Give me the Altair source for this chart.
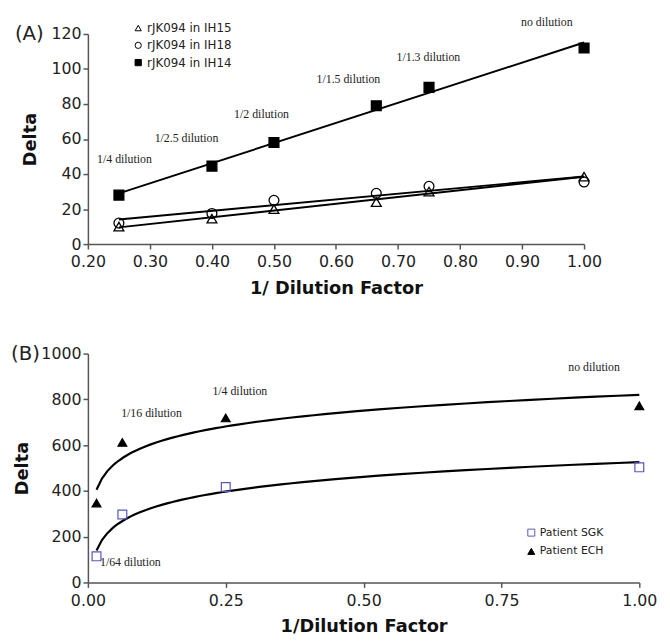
import altair as alt
import pandas as pd

# ---------------- Panel A data ----------------
x_a = [0.25, 0.40, 0.50, 0.665, 0.75, 1.00]
ih15 = [10.0, 14.5, 20.0, 24.0, 30.0, 38.5]
ih18 = [12.0, 17.5, 25.0, 29.0, 33.0, 35.5]
ih14 = [28.0, 44.5, 58.0, 79.0, 89.5, 112.0]
series_a = ["rJK094 in IH15", "rJK094 in IH18", "rJK094 in IH14"]
x_ticks_a = [0.2, 0.3, 0.4, 0.5, 0.6, 0.7, 0.8, 0.9, 1.0]
y_ticks_a = [0, 20, 40, 60, 80, 100, 120]

annot_a_text = ["1/4 dilution", "1/2.5 dilution", "1/2 dilution",
                "1/1.5 dilution", "1/1.3 dilution", "no dilution"]
annot_a_x = [0.259, 0.359, 0.480, 0.620, 0.749, 0.940]
annot_a_y = [48.5, 60.8, 74.4, 94.1, 107.0, 126.8]

# ---------------- Panel B data ----------------
x_b = [1 / 64, 1 / 16, 1 / 4, 1.0]
sgk = [114, 297, 417, 503]
ech = [347, 612, 719, 772]
series_b = ["Patient SGK", "Patient ECH"]
x_ticks_b = [0.0, 0.25, 0.5, 0.75, 1.0]
y_ticks_b = [0, 200, 400, 600, 800, 1000]

annot_b_text = ["1/64 dilution", "1/16 dilution", "1/4 dilution", "no dilution"]
annot_b_x = [0.077, 0.1154, 0.2755, 0.918]
annot_b_y = [90, 741, 838, 940]

# ---------------- tables ----------------
df_a = pd.DataFrame({
    "x": x_a * 3,
    "y": ih15 + ih18 + ih14,
    "series": [s for s in series_a for _ in x_a],
})
df_ann_a = pd.DataFrame({"x": annot_a_x, "y": annot_a_y, "label": annot_a_text})

df_b = pd.DataFrame({
    "x": x_b * 2,
    "y": sgk + ech,
    "series": [s for s in series_b for _ in x_b],
})
df_ann_b = pd.DataFrame({"x": annot_b_x, "y": annot_b_y, "label": annot_b_text})

AX = "#555555"

# ---------------- Panel A ----------------
xa = alt.X("x:Q", scale=alt.Scale(domain=[0.2, 1.0], nice=False, zero=False),
           axis=alt.Axis(values=x_ticks_a, format=".2f", title="1/ Dilution Factor",
                         labelPadding=5, titlePadding=10, labelOverlap=False, labelFlush=False))
ya = alt.Y("y:Q", scale=alt.Scale(domain=[0, 120], nice=False),
           axis=alt.Axis(values=y_ticks_a, format="d", title="Delta", titlePadding=12, labelPadding=2,
                         labelOverlap=False, labelFlush=False, tickCount=7))

legend_a = alt.Legend(title=None, orient="none", legendX=45, legendY=-12,
                      labelFont="DejaVu Sans", labelFontSize=12, labelColor="#222",
                      symbolSize=40, symbolStrokeWidth=1,
                      rowPadding=5.5, labelOffset=3)

base_a = alt.Chart(df_a)
lines_a = base_a.transform_regression("x", "y", groupby=["series"]).mark_line(
    color="black", strokeWidth=2).encode(x=xa, y=ya, detail="series:N")
pts_a = base_a.mark_point(filled=True, strokeWidth=1.3, size=100, opacity=1).encode(
    x=xa, y=ya,
    shape=alt.Shape("series:N", scale=alt.Scale(domain=series_a, range=["triangle-up", "circle", "square"]),
                    legend=legend_a),
    fill=alt.Fill("series:N", scale=alt.Scale(domain=series_a, range=["transparent", "transparent", "black"]),
                  legend=legend_a),
    stroke=alt.Stroke("series:N", scale=alt.Scale(domain=series_a, range=["black", "black", "black"]),
                      legend=legend_a),
)
ann_a = alt.Chart(df_ann_a).mark_text(font="Liberation Serif", fontSize=12, color="#222").encode(
    x="x:Q", y="y:Q", text="label:N")
lab_a = alt.Chart(pd.DataFrame({"t": ["(A)"]})).mark_text(
    font="DejaVu Sans", fontSize=20, align="left", baseline="middle", color="#222").encode(
    x=alt.value(-74), y=alt.value(0), text="t:N")

chart_a = alt.layer(lines_a, pts_a, ann_a, lab_a).properties(width=503, height=213)

# ---------------- Panel B ----------------
xb = alt.X("x:Q", scale=alt.Scale(domain=[0, 1.0], nice=False),
           axis=alt.Axis(values=x_ticks_b, format=".2f", title="1/Dilution Factor",
                         labelPadding=5, titlePadding=10, labelOverlap=False, labelFlush=False))
yb = alt.Y("y:Q", scale=alt.Scale(domain=[0, 1000], nice=False),
           axis=alt.Axis(values=y_ticks_b, format="d", title="Delta", titlePadding=9, labelPadding=2,
                         labelOverlap=False, labelFlush=False))

legend_b = alt.Legend(title=None, orient="none", legendX=444, legendY=176,
                      labelFont="DejaVu Sans", labelFontSize=11, labelColor="#222",
                      symbolSize=50, symbolStrokeWidth=1,
                      rowPadding=6, labelOffset=3)

base_b = alt.Chart(df_b)
lines_b = base_b.transform_regression("x", "y", groupby=["series"], method="log").mark_line(
    color="black", strokeWidth=2.2).encode(x=xb, y=yb, detail="series:N")
pts_b = base_b.mark_point(filled=True, strokeWidth=1.2, size=80, opacity=1).encode(
    x=xb, y=yb,
    shape=alt.Shape("series:N", scale=alt.Scale(domain=series_b, range=["square", "triangle-up"]),
                    legend=legend_b),
    fill=alt.Fill("series:N", scale=alt.Scale(domain=series_b, range=["transparent", "black"]),
                  legend=legend_b),
    stroke=alt.Stroke("series:N", scale=alt.Scale(domain=series_b, range=["#5555c8", "black"]),
                      legend=legend_b),
)
ann_b = alt.Chart(df_ann_b).mark_text(font="Liberation Serif", fontSize=12, color="#222").encode(
    x="x:Q", y="y:Q", text="label:N")
lab_b = alt.Chart(pd.DataFrame({"t": ["(B)"]})).mark_text(
    font="DejaVu Sans", fontSize=20, align="left", baseline="middle", color="#222").encode(
    x=alt.value(-78), y=alt.value(0), text="t:N")

chart_b = alt.layer(lines_b, pts_b, ann_b, lab_b).properties(width=559, height=232)

chart = alt.vconcat(chart_a, chart_b, spacing=47).resolve_scale(
    x="independent", y="independent",
    shape="independent", fill="independent", stroke="independent"
).resolve_legend(
    shape="independent", fill="independent", stroke="independent"
).properties(
    padding={"left": 3, "top": 3, "right": 5, "bottom": 0}
).configure_view(stroke=None).configure_axis(
    grid=False, labelFlush=False, labelOverlap=False,
    labelFont="DejaVu Sans", labelFontSize=16, labelColor="#222",
    titleFont="DejaVu Sans", titleFontSize=18, titleFontWeight="bold", titleColor="#111",
    domainColor=AX, domainWidth=1.5, tickColor=AX, tickWidth=1.5, tickSize=5,
)

chart.save("out.html", embed_options={"renderer": "svg", "actions": False})
